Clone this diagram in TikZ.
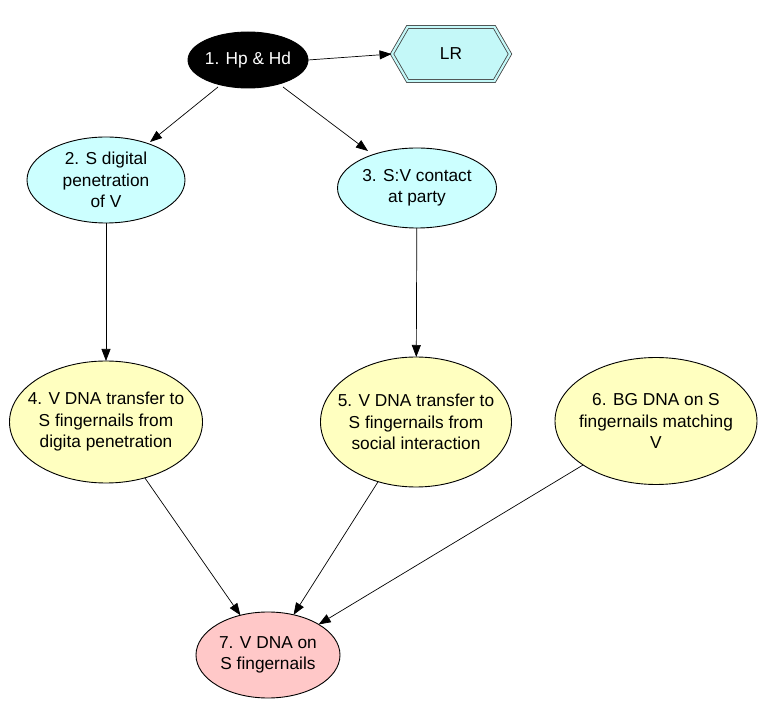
\documentclass[tikz,border=0pt]{standalone}
\usepackage{fontspec}
\setmainfont{Liberation Sans}
\usetikzlibrary{shapes.geometric,shapes.symbols,arrows.meta}
\definecolor{cyanfill}{HTML}{CCFFFF}
\definecolor{yellowfill}{HTML}{FFFFC0}
\definecolor{pinkfill}{HTML}{FFC8C8}
\definecolor{hexfill}{HTML}{C4F8F8}
\begin{document}
\begin{tikzpicture}[x=1pt,y=-1pt,
  every label/.style={align=center,font=\fontsize{17.3}{21.5}\selectfont},
  ell/.style={ellipse,draw=black,line width=0.9pt,inner sep=0pt,outer sep=0pt},
  hyp/.style={ell,fill=black},
  mid/.style={ell,fill=cyanfill},
  low/.style={ell,fill=yellowfill},
  res/.style={ell,fill=pinkfill},
  link/.style={draw=black,line width=0.7pt,-{Triangle[length=12pt,width=9pt]}}
]
\useasboundingbox (0,0) rectangle (764,708);

% query node and likelihood ratio
\node[hyp,minimum width=120pt,minimum height=56pt,
  label={[text=white]center:1. Hp \& Hd}] (n1) at (248,60) {};
\node[signal,signal to=east and west,signal pointer angle=120,
  draw=black!75,line width=0.8pt,double=hexfill,double distance=2.2pt,
  fill=hexfill,minimum width=118pt,minimum height=54pt,inner sep=0pt,
  font=\fontsize{17.3}{21.5}\selectfont] (lr) at (451,54) {LR};

% activity nodes
\node[mid,minimum width=158pt,minimum height=86pt,
  label={center:2. S digital\\penetration\\of V}] (n2) at (106,180) {};
\node[mid,minimum width=159pt,minimum height=80pt,
  label={center:3. S:V contact\\at party}] (n3) at (417,188) {};

% transfer and background nodes
\node[low,minimum width=193pt,minimum height=122pt,
  label={center:4. V DNA transfer to\\S fingernails from\\digita penetration}] (n4) at (106,422) {};
\node[low,minimum width=191pt,minimum height=130pt,
  label={center:5. V DNA transfer to\\S fingernails from\\social interaction}] (n5) at (416,422) {};
\node[low,minimum width=202pt,minimum height=127pt,
  label={center:6. BG DNA on S\\fingernails matching\\V}] (n6) at (656,421) {};

% observation node
\node[res,minimum width=144pt,minimum height=86pt,
  label={center:7. V DNA on\\S fingernails}] (n7) at (268,655) {};

% connectors
\draw[link] (n1.east) -- (lr.west);
\draw[link] ([shift={(-30,27)}]n1.center) -- ([shift={(44,-38)}]n2.center);
\draw[link] ([shift={(35,27)}]n1.center) -- ([shift={(-49,-37)}]n3.center);
\draw[link] (n2) -- (n4);
\draw[link] (n3) -- (n5);
\draw[link] (n4) -- (n7);
\draw[link] (n5) -- (n7);
\draw[link] (n6) -- (n7);
\end{tikzpicture}
\end{document}
